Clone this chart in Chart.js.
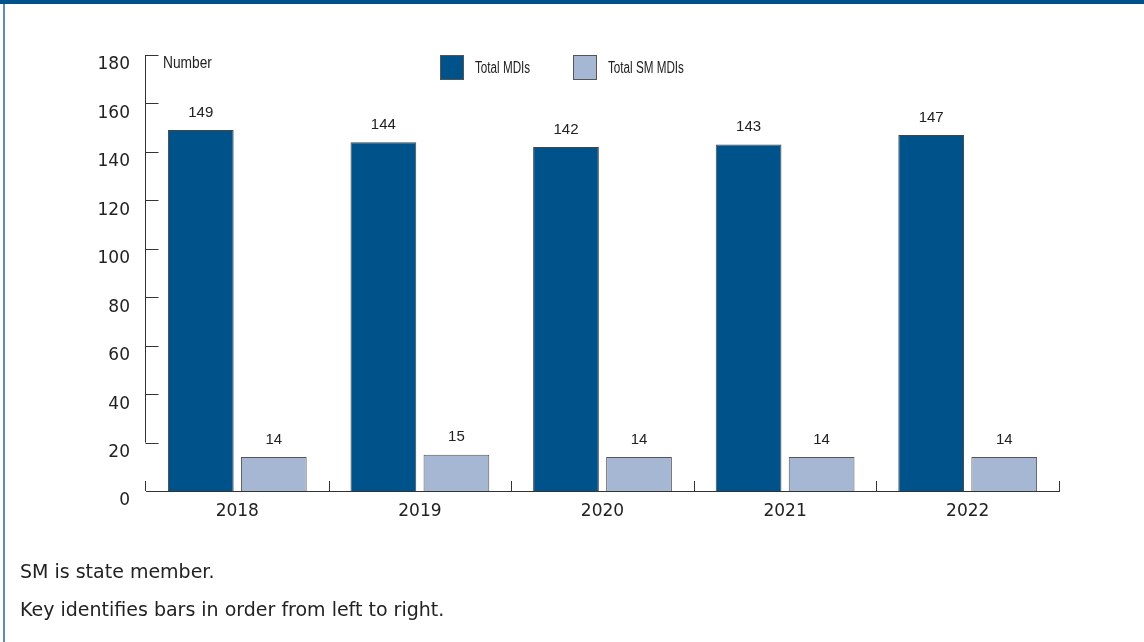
<!DOCTYPE html>
<html>
<head>
<meta charset="utf-8">
<script src="https://cdn.jsdelivr.net/npm/chart.js@4/dist/chart.umd.min.js"></script>
<style>
  html, body { margin: 0; padding: 0; background: #fff; }
  #wrap { position: relative; width: 1144px; height: 642px; overflow: hidden; }
  #topbar { position: absolute; left: 0; top: 0; width: 1144px; height: 4px; background: #00538a; }
  #leftbar { position: absolute; left: 3px; top: 4px; width: 2px; height: 638px; background: #5b8db8; }
  canvas { position: absolute; left: 0; top: 0; }
  .note { position: absolute; left: 20px; font-family: "DejaVu Sans", Verdana, sans-serif; font-size: 19px; color: #222; }
  .legend { position: absolute; top: 55px; display: flex; align-items: center; font-family: "Liberation Sans", Arial, sans-serif; font-size: 16px; color: #222; }
  .legend span.box { display: inline-block; width: 24px; height: 25px; border: 1px solid #555; box-sizing: border-box; margin-right: 11px; }
  .legend span.txt { display: inline-block; transform: scaleX(0.73); transform-origin: left center; }
</style>
</head>
<body>
<div id="wrap">
  <div id="topbar"></div>
  <div id="leftbar"></div>
  <canvas id="mdiChart" width="1144" height="642"></canvas>
  <div class="legend" style="left:440px"><span class="box" style="background:#00538a"></span><span class="txt">Total MDIs</span></div>
  <div class="legend" style="left:573px"><span class="box" style="background:#a6b7d4"></span><span class="txt">Total SM MDIs</span></div>
  <div class="note" style="top:560px">SM is state member.</div>
  <div class="note" style="top:598px">Key identifies bars in order from left to right.</div>
</div>
<script>
// データ
const years = ['2018', '2019', '2020', '2021', '2022'];
const totalMdis = [149, 144, 142, 143, 147];
const totalSmMdis = [14, 15, 14, 14, 14];
const yTicks = [0, 20, 40, 60, 80, 100, 120, 140, 160, 180];

const axisColor = '#333';
const tickFont = { family: '"DejaVu Sans", Verdana, sans-serif', size: 17 };

// 軸線・目盛り線（内向き）と「Number」ラベル
const axisMarks = {
    id: 'axisMarks',
    afterDraw(chart) {
        const ctx = chart.ctx;
        const y = chart.scales.y;
        const area = chart.chartArea;
        const ax = Math.round(area.left) - 0.5;
        ctx.save();
        ctx.strokeStyle = axisColor;
        ctx.lineWidth = 1;
        ctx.beginPath();
        // 縦軸（20の目盛りより下は途切れている）
        ctx.moveTo(ax, y.getPixelForValue(180));
        ctx.lineTo(ax, y.getPixelForValue(20));
        yTicks.forEach(v => {
            if (v === 0) return;
            const py = Math.round(y.getPixelForValue(v)) + 0.5;
            ctx.moveTo(ax, py);
            ctx.lineTo(ax + 13, py);
        });
        // カテゴリ境界の目盛り
        const step = (area.right - area.left) / years.length;
        for (let i = 0; i <= years.length; i++) {
            const px = i === 0 ? ax : Math.round(area.left + step * i) + 0.5;
            ctx.moveTo(px, area.bottom);
            ctx.lineTo(px, area.bottom - 10);
        }
        ctx.stroke();

        ctx.fillStyle = '#222';
        ctx.font = '16px "Liberation Sans", Arial, sans-serif';
        ctx.textBaseline = 'middle';
        ctx.textAlign = 'left';
        ctx.translate(area.left + 17, y.getPixelForValue(180) + 9);
        ctx.scale(0.86, 1);
        ctx.fillText('Number', 0, 0);
        ctx.restore();
    }
};

// 棒の上の数値ラベル
const valueLabels = {
    id: 'valueLabels',
    afterDatasetsDraw(chart) {
        const ctx = chart.ctx;
        ctx.save();
        ctx.fillStyle = '#222';
        ctx.font = '15px "Liberation Sans", Arial, sans-serif';
        ctx.textAlign = 'center';
        ctx.textBaseline = 'bottom';
        chart.data.datasets.forEach((ds, di) => {
            chart.getDatasetMeta(di).data.forEach((bar, i) => {
                ctx.fillText(ds.data[i], bar.x, bar.y - 10);
            });
        });
        ctx.restore();
    }
};

const chart = new Chart(document.getElementById('mdiChart'), {
    type: 'bar',
    data: {
        labels: years,
        datasets: [
            {
                label: 'Total MDIs',
                data: totalMdis,
                backgroundColor: '#00538a',
                borderColor: '#444',
                borderWidth: 1,
                borderSkipped: 'bottom'
            },
            {
                label: 'Total SM MDIs',
                data: totalSmMdis,
                backgroundColor: '#a6b7d4',
                borderColor: '#555',
                borderWidth: 1,
                borderSkipped: 'bottom'
            }
        ]
    },
    options: {
        responsive: false,
        animation: false,
        layout: { padding: { left: 0, right: 85, top: 55, bottom: 111 } },
        plugins: {
            legend: { display: false },
            tooltip: { enabled: false }
        },
        datasets: { bar: { categoryPercentage: 0.8, barPercentage: 0.9 } },
        scales: {
            x: {
                grid: { display: false },
                border: { display: true, color: axisColor, width: 1 },
                ticks: { color: '#222', padding: 2, font: tickFont },
                afterFit(scale) { scale.height = 40; }
            },
            y: {
                min: 0,
                max: 180,
                grid: { display: false },
                border: { display: false },
                afterBuildTicks(scale) { scale.ticks = yTicks.map(v => ({ value: v })); },
                ticks: { color: '#222', padding: 8, labelOffset: 10, font: tickFont },
                afterFit(scale) { scale.width = 146; }
            }
        }
    },
    plugins: [axisMarks, valueLabels]
});
</script>
</body>
</html>
